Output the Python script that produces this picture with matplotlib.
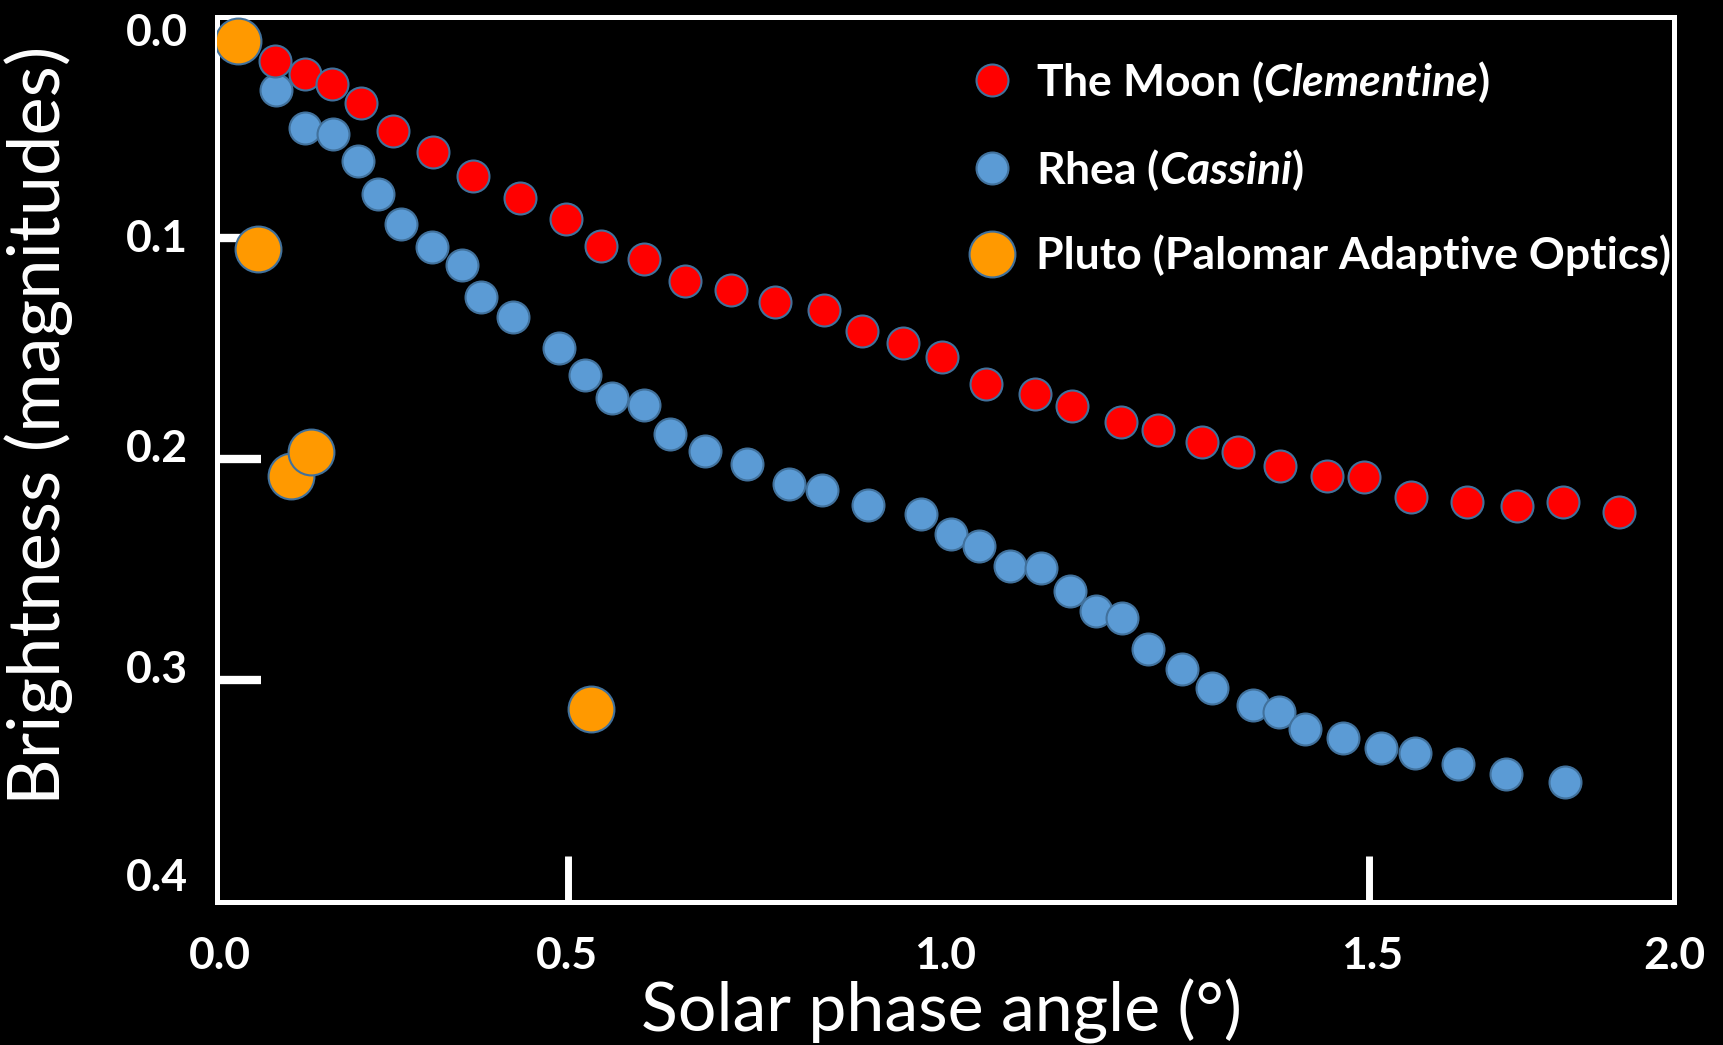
import matplotlib
matplotlib.use("Agg")
import matplotlib.pyplot as plt
from matplotlib.lines import Line2D
from matplotlib.ticker import FixedLocator

# ---------------- data ----------------
moon_x = [0.079, 0.121, 0.158, 0.198, 0.241, 0.296, 0.352, 0.416, 0.479, 0.527,
          0.586, 0.642, 0.705, 0.766, 0.833, 0.885, 0.942, 0.995, 1.055, 1.123,
          1.173, 1.241, 1.292, 1.352, 1.402, 1.459, 1.523, 1.575, 1.639, 1.716,
          1.784, 1.848, 1.925]
moon_y = [0.0199, 0.0258, 0.0303, 0.0392, 0.0517, 0.0611, 0.0720, 0.0820, 0.0914, 0.1038,
          0.1098, 0.1197, 0.1237, 0.1292, 0.1326, 0.1421, 0.1475, 0.1540, 0.1659, 0.1704,
          0.1759, 0.1833, 0.1868, 0.1923, 0.1967, 0.2032, 0.2077, 0.2081, 0.2171, 0.2196,
          0.2211, 0.2196, 0.2240]

rhea_x = [0.081, 0.121, 0.159, 0.194, 0.221, 0.253, 0.295, 0.337, 0.363, 0.407,
          0.470, 0.505, 0.542, 0.586, 0.622, 0.670, 0.728, 0.785, 0.830, 0.894,
          0.966, 1.007, 1.046, 1.088, 1.131, 1.171, 1.206, 1.242, 1.278, 1.325,
          1.366, 1.422, 1.458, 1.494, 1.545, 1.598, 1.645, 1.704, 1.770, 1.851]
rhea_y = [0.0333, 0.0502, 0.0532, 0.0651, 0.0800, 0.0939, 0.1043, 0.1123, 0.1267, 0.1356,
          0.1500, 0.1620, 0.1724, 0.1754, 0.1888, 0.1962, 0.2022, 0.2111, 0.2141, 0.2206,
          0.2250, 0.2340, 0.2394, 0.2484, 0.2494, 0.2598, 0.2688, 0.2717, 0.2861, 0.2951,
          0.3035, 0.3110, 0.3145, 0.3219, 0.3259, 0.3304, 0.3328, 0.3378, 0.3423, 0.3458]

pluto_x = [0.0295, 0.0566, 0.1018, 0.1290, 0.5134]
pluto_y = [0.0109, 0.1053, 0.2077, 0.1967, 0.3130]

series_labels = [r"The Moon ($\mathit{Clementine}$)",
                 r"Rhea ($\mathit{Cassini}$)",
                 "Pluto (Palomar Adaptive Optics)"]

x_label_pos = [0.004, 0.480, 1.000, 1.585, 2.000]
x_tick_labels = ["0.0", "0.5", "1.0", "1.5", "2.0"]
x_tick_marks = [0.482, 1.000, 1.581]
y_label_pos = [0.0061, 0.0988, 0.1937, 0.2940, 0.3880]
y_tick_labels = ["0.0", "0.1", "0.2", "0.3", "0.4"]
y_tick_marks = [0.1, 0.2, 0.3]

# ---------------- style ----------------
plt.rcParams["font.family"] = ["Lato", "DejaVu Sans"]
plt.rcParams["mathtext.fontset"] = "custom"
plt.rcParams["mathtext.rm"] = "Lato:bold"
plt.rcParams["mathtext.it"] = "Lato:italic:bold"

RED = "#FF0000"
BLUE = "#5B9BD5"
ORANGE = "#FF9900"
EDGE = "#41719C"

fig = plt.figure(figsize=(17.23, 10.45), dpi=100, facecolor="black")
ax = fig.add_axes([0.12594, 0.13732, 0.84562, 0.84689])
ax.set_facecolor("black")

ms_small = 23
ms_big = 33
ax.plot(rhea_x, rhea_y, ls="none", marker="o", ms=ms_small, mfc=BLUE, mec=EDGE, mew=1.5, zorder=3)
ax.plot(moon_x, moon_y, ls="none", marker="o", ms=ms_small, mfc=RED, mec=EDGE, mew=1.5, zorder=4)
ax.plot(pluto_x, pluto_y, ls="none", marker="o", ms=ms_big, mfc=ORANGE, mec=EDGE, mew=1.5, zorder=5)

ax.set_xlim(0, 2.0)
ax.set_ylim(0.4, 0.0)

for s in ax.spines.values():
    s.set_color("white")
    s.set_linewidth(3.6)

ax.xaxis.set_major_locator(FixedLocator(x_label_pos))
ax.set_xticklabels(x_tick_labels)
ax.xaxis.set_minor_locator(FixedLocator(x_tick_marks))
ax.yaxis.set_major_locator(FixedLocator(y_label_pos))
ax.set_yticklabels(y_tick_labels)
ax.yaxis.set_minor_locator(FixedLocator(y_tick_marks))

ax.tick_params(which="major", length=0, labelcolor="white", labelsize=32)
ax.tick_params(axis="x", which="major", pad=25)
ax.tick_params(axis="y", which="major", pad=21)
for lab in ax.get_xticklabels() + ax.get_yticklabels():
    lab.set_fontweight("bold")
ax.tick_params(axis="x", which="minor", length=33, width=5, color="white", direction="in")
ax.tick_params(axis="y", which="minor", length=32, width=6, color="white", direction="in")

ax.set_xlabel("Solar phase angle (°)", color="white", fontsize=49)
ax.set_ylabel("Brightness (magnitudes)", color="white", fontsize=52)
ax.xaxis.set_label_coords(0.4975, -0.087)
ax.yaxis.set_label_coords(-0.099, 0.5385)

handles = [
    Line2D([], [], ls="none", marker="o", ms=ms_small, mfc=RED, mec=EDGE, mew=1.5),
    Line2D([], [], ls="none", marker="o", ms=ms_small, mfc=BLUE, mec=EDGE, mew=1.5),
    Line2D([], [], ls="none", marker="o", ms=ms_big, mfc=ORANGE, mec=EDGE, mew=1.5),
]
leg = ax.legend(handles, series_labels, loc="upper left", bbox_to_anchor=(0.5168, 0.952),
                frameon=False, prop={"family": "Lato", "weight": "bold", "size": 32},
                labelcolor="white", handlelength=1.0, handletextpad=0.49,
                labelspacing=0.94, borderpad=0, borderaxespad=0)

fig.savefig("out.png", dpi=100, facecolor="black")
